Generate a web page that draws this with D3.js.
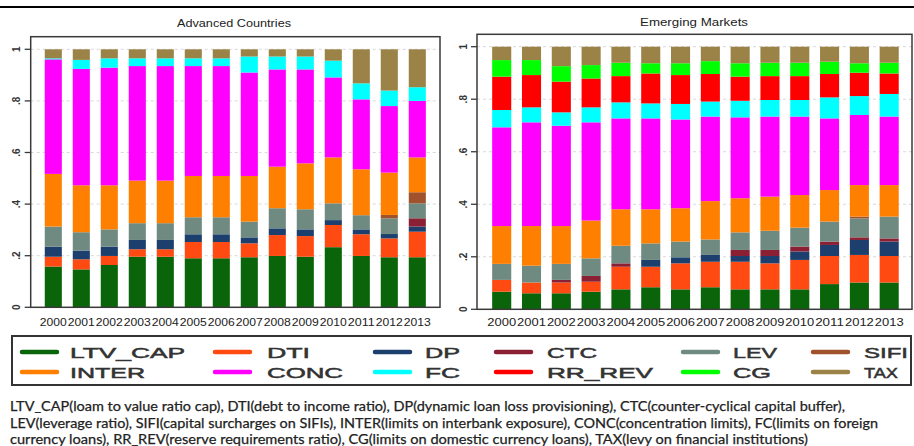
<!DOCTYPE html>
<html><head><meta charset="utf-8">
<script src="https://cdn.jsdelivr.net/npm/d3@7"></script>
<style>body{margin:0;background:#fff}svg{display:block}</style>
</head><body><svg id="c" width="914" height="446"></svg>
<script>
const years = ["2000","2001","2002","2003","2004","2005","2006","2007","2008","2009","2010","2011","2012","2013"];
const seriesNames = ["LTV_CAP","DTI","DP","CTC","LEV","SIFI","INTER","CONC","FC","RR_REV","CG","TAX"];
const seriesColors = ["#0a640a","#ff4a12","#1c3f6e","#8b2035","#6f8a80","#a0522d","#ff8000","#ff00ff","#00ffff","#ff0000","#00ff00","#9b8246"];
const yTicks = [0,0.2,0.4,0.6,0.8,1];
const yTickLabels = ["0",".2",".4",".6",".8","1"];
const panelTitles = ["Advanced Countries","Emerging Markets"];

// Advanced Countries shares
const advLTV_CAP = [.158,.147,.164,.196,.196,.190,.190,.194,.199,.196,.233,.199,.194,.194];
const advDTI     = [.038,.039,.035,.029,.029,.063,.063,.054,.081,.080,.086,.084,.073,.099];
const advDP      = [.039,.034,.036,.036,.036,.030,.030,.023,.026,.026,.019,.019,.017,.020];
const advCTC     = [0,0,0,0,0,0,0,0,0,0,0,0,0,.032];
const advLEV     = [.078,.071,.067,.065,.065,.066,.066,.061,.078,.078,.065,.055,.061,.058];
const advSIFI    = [0,0,0,0,0,0,0,0,0,0,0,0,.013,.043];
const advINTER   = [.204,.182,.171,.165,.165,.160,.160,.177,.161,.178,.178,.178,.164,.135];
const advCONC    = [.444,.451,.456,.444,.444,.426,.426,.401,.377,.364,.310,.271,.258,.219];
const advFC      = [.004,.035,.036,.030,.030,.030,.030,.062,.050,.050,.065,.062,.060,.053];
const advRR_REV  = [0,0,0,0,0,0,0,0,0,0,0,0,0,0];
const advCG      = [0,0,0,0,0,0,0,0,0,0,0,0,0,0];
const advTAX     = [.035,.041,.035,.035,.035,.035,.035,.028,.028,.028,.044,.132,.160,.147];

// Emerging Markets shares
const emLTV_CAP = [.067,.061,.061,.067,.076,.084,.076,.084,.076,.076,.076,.096,.102,.102];
const emDTI     = [.045,.041,.041,.038,.086,.078,.099,.097,.105,.099,.112,.107,.105,.101];
const emDP      = [0,0,0,0,0,.026,.023,.026,.022,.028,.032,.042,.057,.055];
const emCTC     = [0,0,.010,.022,.013,0,0,0,.023,.023,.019,.013,.010,.012];
const emLEV     = [.061,.064,.061,.067,.067,.063,.060,.059,.067,.073,.072,.076,.072,.083];
const emSIFI    = [0,0,0,0,0,0,0,0,0,0,0,0,.007,0];
const emINTER   = [.144,.151,.144,.144,.139,.130,.127,.146,.130,.130,.124,.120,.120,.120];
const emCONC    = [.376,.395,.382,.374,.346,.346,.338,.322,.308,.305,.299,.273,.267,.261];
const emFC      = [.066,.057,.051,.057,.061,.057,.059,.057,.063,.063,.063,.080,.072,.086];
const emRR_REV  = [.127,.123,.117,.110,.100,.114,.110,.105,.092,.091,.091,.089,.089,.078];
const emCG      = [.063,.057,.059,.051,.051,.039,.045,.049,.051,.051,.051,.047,.036,.041];
const emTAX     = [.051,.051,.074,.070,.061,.063,.063,.055,.063,.061,.061,.057,.063,.061];

const captionLines = [
 "LTV_CAP(loam to value ratio cap), DTI(debt to income ratio), DP(dynamic loan loss provisioning), CTC(counter-cyclical capital buffer),",
 "LEV(leverage ratio), SIFI(capital surcharges on SIFIs), INTER(limits on interbank exposure), CONC(concentration limits), FC(limits on foreign",
 "currency loans), RR_REV(reserve requirements ratio), CG(limits on domestic currency loans), TAX(levy on financial institutions)"
];

const advSeries = [advLTV_CAP,advDTI,advDP,advCTC,advLEV,advSIFI,advINTER,advCONC,advFC,advRR_REV,advCG,advTAX];
const emSeries  = [emLTV_CAP,emDTI,emDP,emCTC,emLEV,emSIFI,emINTER,emCONC,emFC,emRR_REV,emCG,emTAX];

function toRows(series){
  return years.map((y,i)=>{const r={year:y}; seriesNames.forEach((k,j)=>r[k]=series[j][i]); return r;});
}

const svg = d3.select("#c");
svg.append("line").attr("x1",0).attr("x2",914).attr("y1",7).attr("y2",7).attr("stroke","#000").attr("stroke-width",2.2);

const panels = [
  {series:advSeries, frame:[30.7,36.7,440,307.3], xr:[39.3,431.3], pad:0.39, y0:307.3, y1:49.3, title:panelTitles[0], tx:234, ty:27, tw:114, lblX:20},
  {series:emSeries,  frame:[477,34.3,912,309.3], xr:[486.8,904.1], pad:0.36, y0:309.3, y1:46.7, title:panelTitles[1], tx:694, ty:26, tw:108, lblX:467}
];

const color = d3.scaleOrdinal().domain(seriesNames).range(seriesColors);

panels.forEach(p=>{
  const g = svg.append("g");
  const x = d3.scaleBand().domain(years).range(p.xr).paddingInner(p.pad).paddingOuter(p.pad/2);
  const y = d3.scaleLinear().domain([0,1]).range([p.y0,p.y1]);
  const [fx0,fy0,fx1,fy1] = p.frame;
  g.selectAll("line.grid").data(yTicks.filter(t=>t>0)).join("line").attr("class","grid")
    .attr("x1",fx0).attr("x2",fx1).attr("y1",d=>y(d)).attr("y2",d=>y(d))
    .attr("stroke","#d8d8d8").attr("stroke-width",1).attr("stroke-dasharray","3,3");
  const stack = d3.stack().keys(seriesNames)(toRows(p.series));
  g.selectAll("g.layer").data(stack).join("g").attr("class","layer").attr("fill",d=>color(d.key))
    .selectAll("rect").data(d=>d).join("rect")
    .attr("x",d=>x(d.data.year)).attr("width",x.bandwidth())
    .attr("y",d=>y(d[1])).attr("height",d=>Math.max(0,y(d[0])-y(d[1])));
  g.append("rect").attr("x",fx0).attr("y",fy0).attr("width",fx1-fx0).attr("height",fy1-fy0)
    .attr("fill","none").attr("stroke","#3a3a3a").attr("stroke-width",1.5);
  g.selectAll("line.tk").data(yTicks).join("line").attr("class","tk")
    .attr("x1",fx0-6).attr("x2",fx0).attr("y1",d=>y(d)).attr("y2",d=>y(d))
    .attr("stroke","#3a3a3a").attr("stroke-width",1.3);
  g.selectAll("text.yl").data(yTicks).join("text").attr("class","yl")
    .attr("transform",d=>`translate(${p.lblX},${y(d)}) rotate(-90)`)
    .attr("text-anchor","middle").attr("font-family","Liberation Sans, Arial, sans-serif")
    .attr("font-size",10).attr("font-weight","bold").attr("fill","#333").text((d,i)=>yTickLabels[i]);
  g.selectAll("text.xl").data(years).join("text").attr("class","xl")
    .attr("x",d=>x(d)+x.bandwidth()/2).attr("y",326)
    .attr("text-anchor","middle").attr("font-family","Liberation Sans Narrow, Liberation Sans, Arial, sans-serif")
    .attr("font-size",10.5).attr("fill","#222")
    .attr("textLength",x.step()-1).attr("lengthAdjust","spacingAndGlyphs").text(d=>d);
  svg.append("text").attr("x",p.tx).attr("y",p.ty).attr("text-anchor","middle")
    .attr("font-family","Liberation Sans, Arial, sans-serif").attr("font-size",11).attr("fill","#222")
    .attr("textLength",p.tw).attr("lengthAdjust","spacingAndGlyphs").text(p.title);
});

// legend
const lg = svg.append("g");
lg.append("rect").attr("x",12).attr("y",336).attr("width",899).attr("height",49)
  .attr("fill","#fff").attr("stroke","#333").attr("stroke-width",2);
const legCols = [22,215,375,496,683,813];
const legTextX = [70,267,425,547,733,864];
const legWidths = [115,43,35,50,44,44,75,76,35,106,38,34];
seriesNames.forEach((k,i)=>{
  const col = i%6, row = Math.floor(i/6);
  const cy = row===0 ? 352 : 372;
  lg.append("line").attr("x1",legCols[col]).attr("x2",legCols[col]+35).attr("y1",cy).attr("y2",cy)
    .attr("stroke",color(k)).attr("stroke-width",4.5).attr("stroke-linecap","round");
  lg.append("text").attr("x",legTextX[col]).attr("y",cy+5.5)
    .attr("font-family","Liberation Sans, Arial, sans-serif").attr("font-size",15)
    .attr("fill","#333").attr("stroke","#333").attr("stroke-width",0.5)
    .attr("textLength",legWidths[i]).attr("lengthAdjust","spacingAndGlyphs").text(k);
});

// caption
const capW = [835,868,798];
const capY = [411,428,444];
captionLines.forEach((t,i)=>{
  svg.append("text").attr("x",10).attr("y",capY[i])
    .attr("font-family","Lato, Open Sans, sans-serif").attr("font-size",13.5)
    .attr("fill","#222").attr("stroke","#222").attr("stroke-width",0.25)
    .attr("textLength",capW[i]).attr("lengthAdjust","spacingAndGlyphs").text(t);
});
</script></body></html>
